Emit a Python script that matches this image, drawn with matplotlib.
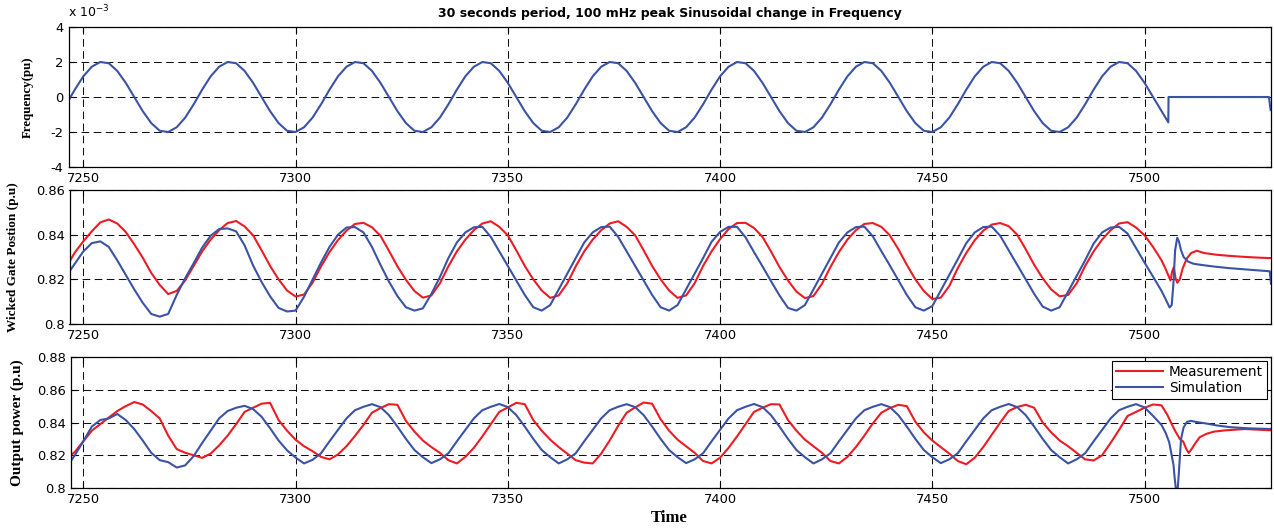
import matplotlib
matplotlib.use('Agg')
import matplotlib.pyplot as plt
import numpy as np
from matplotlib.ticker import FixedLocator, FuncFormatter

plt.rcParams['font.family'] = 'DejaVu Sans'
plt.rcParams['axes.unicode_minus'] = False
plt.rcParams['lines.scale_dashes'] = False

# sample grid, 2 s step (one row below = one 30 s period)
t_main = np.arange(7246, 7505, 2)

# frequency, in units of 1e-3 pu
freq_main = [
    -0.42, 0.42, 1.18, 1.73, 2.00, 1.93, 1.49, 0.81, 0.00, -0.81, -1.49, -1.93, -2.00, -1.73, -1.18,
    -0.42, 0.42, 1.18, 1.73, 2.00, 1.93, 1.49, 0.81, 0.00, -0.81, -1.49, -1.93, -2.00, -1.73, -1.18,
    -0.42, 0.42, 1.18, 1.73, 2.00, 1.93, 1.49, 0.81, 0.00, -0.81, -1.49, -1.93, -2.00, -1.73, -1.18,
    -0.42, 0.42, 1.18, 1.73, 2.00, 1.93, 1.49, 0.81, 0.00, -0.81, -1.49, -1.93, -2.00, -1.73, -1.18,
    -0.42, 0.42, 1.18, 1.73, 2.00, 1.93, 1.49, 0.81, 0.00, -0.81, -1.49, -1.93, -2.00, -1.73, -1.18,
    -0.42, 0.42, 1.18, 1.73, 2.00, 1.93, 1.49, 0.81, 0.00, -0.81, -1.49, -1.93, -2.00, -1.73, -1.18,
    -0.42, 0.42, 1.18, 1.73, 2.00, 1.93, 1.49, 0.81, 0.00, -0.81, -1.49, -1.93, -2.00, -1.73, -1.18,
    -0.42, 0.42, 1.18, 1.73, 2.00, 1.93, 1.49, 0.81, 0.00, -0.81, -1.49, -1.93, -2.00, -1.73, -1.18,
    -0.42, 0.42, 1.18, 1.73, 2.00, 1.93, 1.49, 0.81, 0.00, -0.81,
]
freq_tail_t = [7505.6, 7505.65, 7529.3, 7529.7]
freq_tail = [-1.45, 0.00, 0.00, -0.75]

# wicket gate position, measurement
gate_meas = [
    0.8255, 0.8320, 0.8370, 0.8415, 0.8455, 0.8468, 0.8450, 0.8412, 0.8357, 0.8297, 0.8229, 0.8175, 0.8134, 0.8148, 0.8195,
    0.8260, 0.8325, 0.8378, 0.8420, 0.8452, 0.8461, 0.8437, 0.8397, 0.8330, 0.8260, 0.8200, 0.8150, 0.8123, 0.8132, 0.8185,
    0.8258, 0.8322, 0.8376, 0.8418, 0.8448, 0.8453, 0.8433, 0.8395, 0.8328, 0.8258, 0.8198, 0.8148, 0.8118, 0.8128, 0.8182,
    0.8258, 0.8325, 0.8378, 0.8420, 0.8450, 0.8460, 0.8435, 0.8397, 0.8330, 0.8260, 0.8200, 0.8150, 0.8117, 0.8128, 0.8182,
    0.8258, 0.8325, 0.8378, 0.8420, 0.8450, 0.8460, 0.8435, 0.8397, 0.8330, 0.8260, 0.8200, 0.8150, 0.8117, 0.8128, 0.8182,
    0.8260, 0.8325, 0.8380, 0.8425, 0.8452, 0.8453, 0.8430, 0.8390, 0.8325, 0.8255, 0.8195, 0.8145, 0.8116, 0.8125, 0.8180,
    0.8255, 0.8322, 0.8378, 0.8420, 0.8448, 0.8452, 0.8435, 0.8397, 0.8335, 0.8265, 0.8200, 0.8148, 0.8112, 0.8118, 0.8170,
    0.8250, 0.8318, 0.8375, 0.8418, 0.8445, 0.8452, 0.8438, 0.8400, 0.8335, 0.8265, 0.8205, 0.8155, 0.8124, 0.8130, 0.8182,
    0.8260, 0.8325, 0.8378, 0.8420, 0.8450, 0.8456, 0.8432, 0.8397, 0.8345, 0.8285,
]
gate_meas_tail_t = [7505.0, 7506.1, 7506.5, 7506.9, 7507.3, 7507.7, 7508.3, 7509.0, 7510.0,
                    7511.0, 7512.3, 7514.0, 7517.0, 7520.0, 7524.0, 7527.0, 7529.8]
gate_meas_tail = [0.8245, 0.8195, 0.8235, 0.8255, 0.8205, 0.8185, 0.8200, 0.8250, 0.8295,
                  0.8318, 0.8328, 0.8318, 0.8310, 0.8305, 0.8300, 0.8297, 0.8295]

# wicket gate position, simulation
gate_sim = [
    0.8215, 0.8270, 0.8325, 0.8362, 0.8370, 0.8345, 0.8285, 0.8220, 0.8155, 0.8095, 0.8045, 0.8033, 0.8045, 0.8130, 0.8205,
    0.8272, 0.8342, 0.8395, 0.8425, 0.8428, 0.8415, 0.8352, 0.8262, 0.8188, 0.8124, 0.8072, 0.8056, 0.8060, 0.8122, 0.8198,
    0.8275, 0.8345, 0.8400, 0.8432, 0.8434, 0.8410, 0.8345, 0.8265, 0.8190, 0.8125, 0.8075, 0.8060, 0.8070, 0.8135, 0.8210,
    0.8295, 0.8365, 0.8410, 0.8433, 0.8435, 0.8390, 0.8325, 0.8260, 0.8195, 0.8130, 0.8075, 0.8060, 0.8085, 0.8155, 0.8225,
    0.8295, 0.8365, 0.8410, 0.8434, 0.8436, 0.8390, 0.8325, 0.8260, 0.8195, 0.8130, 0.8075, 0.8060, 0.8085, 0.8155, 0.8225,
    0.8295, 0.8368, 0.8412, 0.8435, 0.8435, 0.8388, 0.8322, 0.8258, 0.8192, 0.8128, 0.8072, 0.8060, 0.8085, 0.8155, 0.8225,
    0.8295, 0.8365, 0.8410, 0.8434, 0.8436, 0.8392, 0.8326, 0.8262, 0.8196, 0.8130, 0.8075, 0.8060, 0.8080, 0.8150, 0.8220,
    0.8290, 0.8362, 0.8410, 0.8434, 0.8436, 0.8395, 0.8330, 0.8265, 0.8200, 0.8135, 0.8078, 0.8060, 0.8075, 0.8145, 0.8215,
    0.8285, 0.8360, 0.8410, 0.8432, 0.8435, 0.8405, 0.8340, 0.8275, 0.8212, 0.8148,
]
gate_sim_tail_t = [7505.0, 7505.9, 7506.4, 7506.8, 7507.2, 7507.7, 7508.1, 7508.6, 7509.2,
                   7510.2, 7511.5, 7513.2, 7516.0, 7520.0, 7524.0, 7528.0, 7529.5, 7529.8]
gate_sim_tail = [0.8110, 0.8074, 0.8085, 0.8180, 0.8330, 0.8386, 0.8370, 0.8330, 0.8300,
                 0.8280, 0.8270, 0.8265, 0.8258, 0.8250, 0.8244, 0.8238, 0.8236, 0.8180]

# output power, measurement
power_meas = [
    0.8180, 0.8220, 0.8285, 0.8350, 0.8390, 0.8430, 0.8470, 0.8500, 0.8525, 0.8510, 0.8470, 0.8425, 0.8320, 0.8238, 0.8215,
    0.8200, 0.8184, 0.8210, 0.8260, 0.8320, 0.8390, 0.8465, 0.8490, 0.8515, 0.8520, 0.8415, 0.8350, 0.8295, 0.8255, 0.8225,
    0.8190, 0.8175, 0.8205, 0.8255, 0.8318, 0.8385, 0.8460, 0.8488, 0.8512, 0.8508, 0.8410, 0.8345, 0.8290, 0.8250, 0.8215,
    0.8170, 0.8150, 0.8190, 0.8245, 0.8315, 0.8390, 0.8465, 0.8492, 0.8520, 0.8512, 0.8415, 0.8350, 0.8295, 0.8250, 0.8210,
    0.8170, 0.8155, 0.8150, 0.8210, 0.8290, 0.8380, 0.8460, 0.8492, 0.8522, 0.8515, 0.8420, 0.8350, 0.8295, 0.8255, 0.8215,
    0.8165, 0.8150, 0.8185, 0.8245, 0.8315, 0.8390, 0.8465, 0.8490, 0.8512, 0.8510, 0.8415, 0.8350, 0.8295, 0.8255, 0.8215,
    0.8165, 0.8150, 0.8190, 0.8250, 0.8320, 0.8395, 0.8460, 0.8488, 0.8508, 0.8500, 0.8405, 0.8340, 0.8290, 0.8250, 0.8210,
    0.8165, 0.8145, 0.8185, 0.8250, 0.8325, 0.8400, 0.8470, 0.8495, 0.8508, 0.8490, 0.8400, 0.8340, 0.8290, 0.8255, 0.8215,
    0.8175, 0.8168, 0.8200, 0.8275, 0.8355, 0.8440, 0.8465, 0.8490, 0.8510, 0.8505,
]
power_meas_tail_t = [7505.4, 7506.5, 7507.3, 7508.3, 7509.1, 7509.8, 7510.4, 7511.0, 7512.0,
                     7513.0, 7514.5, 7516.3, 7519.0, 7523.6, 7527.0, 7529.8]
power_meas_tail = [0.8445, 0.8385, 0.8344, 0.8300, 0.8284, 0.8240, 0.8214, 0.8235, 0.8275,
                   0.8310, 0.8330, 0.8344, 0.8352, 0.8360, 0.8356, 0.8352]

# output power, simulation
power_sim = [
    0.8125, 0.8200, 0.8285, 0.8375, 0.8415, 0.8425, 0.8452, 0.8415, 0.8360, 0.8290, 0.8215, 0.8170, 0.8158, 0.8125, 0.8138,
    0.8195, 0.8275, 0.8350, 0.8425, 0.8470, 0.8490, 0.8502, 0.8482, 0.8435, 0.8365, 0.8290, 0.8230, 0.8186, 0.8150, 0.8172,
    0.8212, 0.8285, 0.8355, 0.8425, 0.8475, 0.8496, 0.8512, 0.8494, 0.8445, 0.8375, 0.8300, 0.8232, 0.8188, 0.8152, 0.8175,
    0.8212, 0.8285, 0.8355, 0.8425, 0.8475, 0.8496, 0.8513, 0.8494, 0.8445, 0.8375, 0.8300, 0.8232, 0.8188, 0.8150, 0.8175,
    0.8212, 0.8285, 0.8355, 0.8425, 0.8475, 0.8496, 0.8512, 0.8494, 0.8445, 0.8375, 0.8300, 0.8232, 0.8188, 0.8152, 0.8175,
    0.8212, 0.8285, 0.8355, 0.8425, 0.8475, 0.8496, 0.8513, 0.8494, 0.8445, 0.8375, 0.8300, 0.8232, 0.8188, 0.8150, 0.8175,
    0.8212, 0.8285, 0.8355, 0.8425, 0.8475, 0.8496, 0.8512, 0.8494, 0.8445, 0.8375, 0.8300, 0.8232, 0.8188, 0.8152, 0.8175,
    0.8212, 0.8285, 0.8355, 0.8425, 0.8475, 0.8496, 0.8513, 0.8494, 0.8445, 0.8375, 0.8300, 0.8232, 0.8188, 0.8150, 0.8175,
    0.8212, 0.8285, 0.8355, 0.8425, 0.8475, 0.8496, 0.8512, 0.8492, 0.8440, 0.8385,
]
power_sim_tail_t = [7505.0, 7505.8, 7506.4, 7506.8, 7507.1, 7507.4, 7507.8, 7508.1, 7508.6,
                    7509.2, 7510.0, 7510.9, 7512.5, 7514.5, 7517.0, 7520.0, 7524.0, 7529.8]
power_sim_tail = [0.8335, 0.8280, 0.8200, 0.8144, 0.8060, 0.7990, 0.7990, 0.8100, 0.8300,
                  0.8370, 0.8404, 0.8410, 0.8402, 0.8394, 0.8382, 0.8372, 0.8365, 0.8360]

title = '30 seconds period, 100 mHz peak Sinusoidal change in Frequency'
labels = ['Measurement', 'Simulation']
xticks = [7250, 7300, 7350, 7400, 7450, 7500]

red = '#ec1c24'
blue = '#3a53a4'

W, H = 1274, 528
px_per_s = 4.245   # horizontal scale, pixels per second
x7250 = 83.3       # pixel of t = 7250
right_px = 1271


def make_axes(left, top, bottom):
    ax = fig.add_axes([left / W, 1 - bottom / H, (right_px - left) / W, (bottom - top) / H])
    ax.set_xlim(7250 - (x7250 - left) / px_per_s, 7250 + (right_px - x7250) / px_per_s)
    ax.xaxis.set_major_locator(FixedLocator(xticks))
    ax.grid(True, color='#111111', linestyle=(0, (5.5, 3.2)), linewidth=0.75)
    ax.tick_params(direction='in', length=4, width=0.8, top=True, right=True,
                   labelsize=9.4, pad=3.5)
    for s in ax.spines.values():
        s.set_linewidth(0.9)
    ax.yaxis.set_major_formatter(FuncFormatter(lambda v, p: '%g' % round(v, 4)))
    return ax


fig = plt.figure(figsize=(W / 100, H / 100), dpi=100)

t_freq = np.concatenate([t_main, freq_tail_t])
t_gm = np.concatenate([t_main, gate_meas_tail_t])
t_gs = np.concatenate([t_main, gate_sim_tail_t])
t_pm = np.concatenate([t_main, power_meas_tail_t])
t_ps = np.concatenate([t_main, power_sim_tail_t])

# frequency
ax1 = make_axes(68.5, 27, 167)
ax1.plot(t_freq, freq_main + freq_tail, color=blue, lw=1.5)
ax1.set_ylim(-4, 4)
ax1.yaxis.set_major_locator(FixedLocator([-4, -2, 0, 2, 4]))
ax1.set_title(title, fontsize=9, fontweight='bold', pad=7)
ax1.annotate('x 10$^{-3}$', xy=(0, 1), xycoords='axes fraction', xytext=(0, 5),
             textcoords='offset points', fontsize=9, va='bottom', ha='left')
ax1.set_ylabel('Frequency(pu)', fontfamily='Liberation Serif', fontweight='bold', fontsize=9.3)
ax1.yaxis.set_label_coords(-0.029, 0.5)

# wicket gate
ax2 = make_axes(69.5, 190, 324)
ax2.plot(t_gm, gate_meas + gate_meas_tail, color=red, lw=1.5)
ax2.plot(t_gs, gate_sim + gate_sim_tail, color=blue, lw=1.5)
ax2.set_ylim(0.8, 0.86)
ax2.yaxis.set_major_locator(FixedLocator([0.8, 0.82, 0.84, 0.86]))
ax2.set_ylabel('Wicked Gate Postion (p.u)', fontfamily='Liberation Serif', fontweight='bold', fontsize=9.5)
ax2.yaxis.set_label_coords(-0.042, 0.5)

# output power
ax3 = make_axes(71, 357, 488)
ax3.plot(t_pm, power_meas + power_meas_tail, color=red, lw=1.5, label=labels[0])
ax3.plot(t_ps, power_sim + power_sim_tail, color=blue, lw=1.5, label=labels[1])
ax3.set_ylim(0.8, 0.88)
ax3.yaxis.set_major_locator(FixedLocator([0.8, 0.82, 0.84, 0.86, 0.88]))
ax3.set_ylabel('Output power (p.u)', fontfamily='Liberation Serif', fontweight='bold', fontsize=11)
ax3.yaxis.set_label_coords(-0.039, 0.5)
leg = ax3.legend(loc='upper right', fontsize=9.8, fancybox=False, edgecolor='k', framealpha=1,
                 borderpad=0.3, labelspacing=0.15, handlelength=3.45, handletextpad=0.45,
                 borderaxespad=0.3)
leg.get_frame().set_linewidth(0.8)

fig.text(669 / W, 1 - 518 / H, 'Time', ha='center', va='center',
         fontfamily='Liberation Serif', fontweight='bold', fontsize=12)

fig.savefig('out.png', dpi=100)
